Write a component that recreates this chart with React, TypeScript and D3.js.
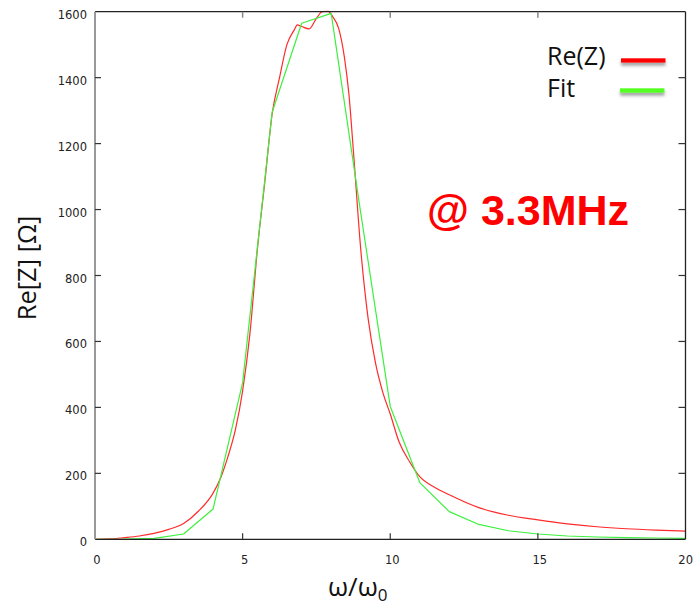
import React from "react";
import * as d3 from "d3";

const W = 693;
const H = 606;

// Re(Z) measured curve
const reX = [0, 0.5, 1, 1.5, 2, 2.5, 3, 3.5, 4, 4.25, 4.5, 4.75, 5, 5.25, 5.5, 5.75, 6, 6.25, 6.5, 6.75, 6.85, 7.0, 7.25, 7.5, 7.7, 7.9, 8.05, 8.25, 8.45, 8.6, 8.75, 9.0, 9.25, 9.5, 9.75, 10, 10.3, 10.65, 11, 11.5, 12, 13, 14, 15, 16, 17, 18, 19, 20];
const reY = [0, 1, 5, 10, 18, 30, 48, 85, 140, 185, 250, 330, 450, 626, 880, 1082, 1290, 1400, 1500, 1545, 1560, 1555, 1548, 1580, 1600, 1601, 1585, 1550, 1460, 1350, 1180, 880, 670, 535, 445, 380, 295, 236, 190, 158, 135, 96, 73, 59, 47, 38, 32, 28, 25];

// Fit curve
const fitX = [0, 1, 2, 3, 4, 5, 6, 7, 8, 9, 10, 11, 12, 13, 14, 15, 16, 17, 18, 19, 20];
const fitY = [0, 0.5, 3, 16, 92, 475, 1295, 1565, 1595, 990, 403, 172, 84, 45, 26, 16, 10, 7, 5, 4, 3];

const xTicks = [0, 5, 10, 15, 20];
const yTicks = [0, 200, 400, 600, 800, 1000, 1200, 1400, 1600];

const seriesNames = ["Re(Z)", "Fit"];
const seriesColors = ["#ff2a2a", "#3ef03e"];
const legendColors = ["#ff0000", "#55ff22"];

export default function App() {
  const x = d3.scaleLinear().domain([0, 20]).range([95, 685.5]);
  const y = d3.scaleLinear().domain([0, 1600]).range([539.3, 11.7]);

  const reLine = d3
    .line<[number, number]>()
    .x((d) => x(d[0]))
    .y((d) => y(d[1]))
    .curve(d3.curveMonotoneX);
  const fitLine = d3
    .line<[number, number]>()
    .x((d) => x(d[0]))
    .y((d) => y(d[1]));

  const reData = reX.map((v, i) => [v, reY[i]] as [number, number]);
  const fitData = fitX.map((v, i) => [v, fitY[i]] as [number, number]);

  const tickFont = "'DejaVu Sans', Verdana, sans-serif";
  const labelFont = "'Open Sans', 'Liberation Sans', sans-serif";

  const [x0, x1] = x.range();
  const [y0, y1] = y.range();

  return (
    <svg
      width={W}
      height={H}
      viewBox={`0 0 ${W} ${H}`}
      style={{ position: "absolute", left: 0, top: 0, display: "block", background: "#fff" }}
    >
      <defs>
        <filter id="shadow" filterUnits="userSpaceOnUse" x="600" y="40" width="90" height="70">
          <feDropShadow dx="0" dy="3" stdDeviation="1.6" floodColor="#555" floodOpacity="0.55" />
        </filter>
        <clipPath id="plotclip">
          <rect x={x0} y={y1 - 2} width={x1 - x0} height={y0 - y1 + 2} />
        </clipPath>
      </defs>
      <rect x={0} y={0} width={W} height={H} fill="#fff" />

      {/* curves */}
      <g clipPath="url(#plotclip)">
        <path d={reLine(reData) || ""} fill="none" stroke={seriesColors[0]} strokeWidth={1.2} strokeLinejoin="round" />
        <path d={fitLine(fitData) || ""} fill="none" stroke={seriesColors[1]} strokeWidth={1.2} strokeLinejoin="round" />
      </g>

      {/* frame */}
      <line x1={x0} x2={x1} y1={y1} y2={y1} stroke="#222" strokeWidth={1.3} />
      <line x1={x1} x2={x1} y1={y1} y2={y0} stroke="#222" strokeWidth={1.3} />
      <line x1={x0} x2={x1} y1={y0} y2={y0} stroke="#222" strokeWidth={1.3} />
      <line x1={x0} x2={x0} y1={y1} y2={y0} stroke="#999" strokeWidth={2} />

      {/* x ticks */}
      {xTicks.map((t) => (
        <g key={"xt" + t}>
          {t > 0 && t < 20 && (
            <>
              <line x1={x(t)} x2={x(t)} y1={y0} y2={y0 - 6} stroke="#333" strokeWidth={1.2} />
              <line x1={x(t)} x2={x(t)} y1={y1} y2={y1 + 6} stroke="#888" strokeWidth={1.5} />
            </>
          )}
          <text
            x={t === 20 ? 693 : x(t) + 2}
            y={y0 + 25}
            textAnchor={t === 20 ? "end" : "middle"}
            fontFamily={tickFont}
            fontSize={11.5}
            fill="#222"
          >
            {t}
          </text>
        </g>
      ))}

      {/* y ticks */}
      {yTicks.map((t) => (
        <g key={"yt" + t}>
          {t > 0 && t < 1600 && (
            <>
              <line x1={x0} x2={x0 + 6} y1={y(t)} y2={y(t)} stroke="#333" strokeWidth={1.2} />
              <line x1={x1} x2={x1 - 7} y1={y(t)} y2={y(t)} stroke="#333" strokeWidth={1.2} />
            </>
          )}
          <text
            x={87}
            y={y(t) + 7}
            textAnchor="end"
            fontFamily={tickFont}
            fontSize={11.5}
            fill="#222"
          >
            {t}
          </text>
        </g>
      ))}

      {/* axis titles */}
      <text
        transform={`translate(36, 268) rotate(-90)`}
        textAnchor="middle"
        fontFamily={labelFont}
        fontSize={25.5}
        fill="#111"
      >
        Re[Z] [Ω]
      </text>
      <text x={328} y={596} fontFamily={labelFont} fontSize={26} fill="#111">
        ω/ω
        <tspan fontSize={17} dy={5}>0</tspan>
      </text>

      {/* annotation */}
      <text
        x={427}
        y={225}
        fontFamily="'Liberation Sans', Arial, sans-serif"
        fontWeight="bold"
        fontSize={43}
        fill="#ff0000"
      >
        @ 3.3MHz
      </text>

      {/* legend */}
      {seriesNames.map((n, i) => (
        <g key={n}>
          <text
            x={547}
            y={65 + i * 31.5}
            fontFamily={labelFont}
            fontSize={25}
            fill="#111"
          >
            {n}
          </text>
          <rect
            x={621 - i}
            width={44.5}
            y={58.3 + i * 30}
            height={4.4}
            fill={legendColors[i]}
            filter="url(#shadow)"
          />
        </g>
      ))}
    </svg>
  );
}
